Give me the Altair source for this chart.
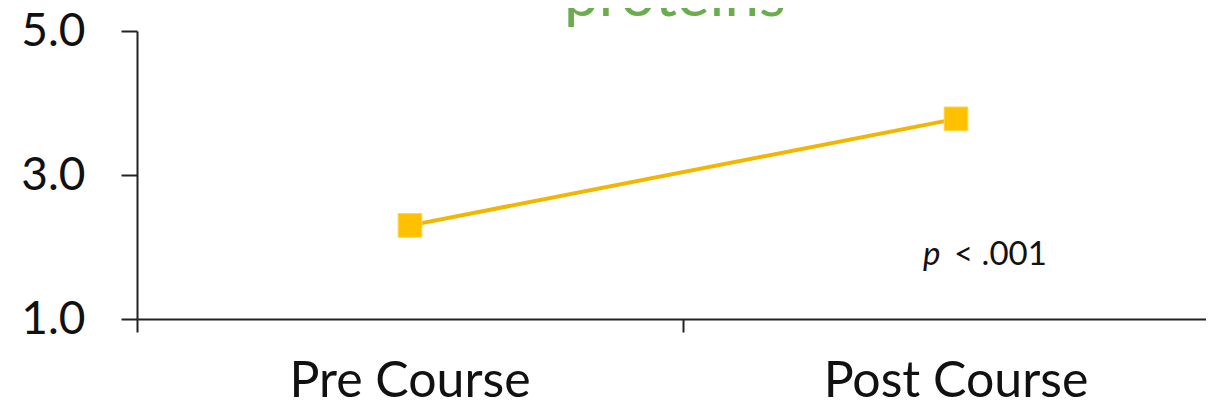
import altair as alt
import pandas as pd

categories = ["Pre Course", "Post Course"]
scores = [2.3, 3.78]
y_ticks = [1.0, 3.0, 5.0]
title_text = ["proteins"]
title_anchor_cat = ["Post Course"]
title_anchor_val = [5.21]
p_symbol = "p"
p_rest = "< .001"
p_anchor_cat = ["Post Course"]
p_anchor_val = [1.75]

df = pd.DataFrame({"cat": categories, "value": scores})
ann = pd.DataFrame({"cat": p_anchor_cat, "value": p_anchor_val})
ttl = pd.DataFrame({"cat": title_anchor_cat, "value": title_anchor_val, "label": title_text})

FONT = "Lato"
xscale = alt.Scale(type="band", domain=categories, range=[0, 1092],
                   paddingInner=0, paddingOuter=0)
yscale = alt.Scale(domain=[1, 5], nice=False, zero=False)
yaxis = alt.Axis(values=y_ticks, format=".1f", title=None, grid=False,
                 labelFont=FONT, labelFontSize=46, labelColor="#111111",
                 tickSize=16, tickWidth=2, tickColor="#222222",
                 domainWidth=2, domainColor="#222222", labelPadding=36)
y = alt.Y("value:Q", scale=yscale, axis=yaxis)

line = alt.Chart(df).mark_line(color="#F2B600", strokeWidth=4).encode(
    x=alt.X("cat:N", sort=categories, scale=xscale,
            axis=alt.Axis(orient="bottom", title=None, ticks=False, labelAngle=0,
                          labelFont=FONT, labelFontSize=50, labelColor="#111111",
                          labelBaseline="alphabetic", labelPadding=77, labelLimit=0,
                          domainWidth=2, domainColor="#222222")),
    y=y,
)

pts = alt.Chart(df).mark_square(size=560, color="#FFC000", opacity=1,
                                stroke="#FFD54A", strokeWidth=1).encode(
    x=alt.X("cat:N", sort=categories, scale=xscale,
            axis=alt.Axis(orient="bottom", title=None, labels=False, domain=False,
                          bandPosition=0, ticks=True, tickSize=13, tickWidth=2,
                          tickColor="#222222")),
    y=y,
)

p1 = alt.Chart(ann).mark_text(text=p_symbol, font=FONT, fontStyle="italic",
                              fontSize=33, align="left", baseline="alphabetic",
                              dx=-33, color="#111111").encode(
    x=alt.X("cat:N", sort=categories, scale=xscale, axis=None), y=y)
p2 = alt.Chart(ann).mark_text(text=p_rest, font=FONT, fontSize=33, align="left",
                              baseline="alphabetic", dx=-2, color="#111111").encode(
    x=alt.X("cat:N", sort=categories, scale=xscale, axis=None), y=y)

title = alt.Chart(ttl).mark_text(font=FONT, fontSize=62, color="#6AAD4C",
                                 align="center", baseline="alphabetic", dx=-8).encode(
    x=alt.X("cat:N", sort=categories, scale=xscale, axis=None, bandPosition=0),
    y=y,
    text="label:N",
)

chart = alt.layer(line, pts, p1, p2, title).resolve_axis(x="independent").properties(
    width=1069, height=288,
    autosize=alt.AutoSizeParams(type="none"),
    padding={"left": 129, "top": 23, "right": 0, "bottom": 79},
).configure_view(stroke=None)

chart.save("out.html", embed_options={"renderer": "svg", "actions": False})
